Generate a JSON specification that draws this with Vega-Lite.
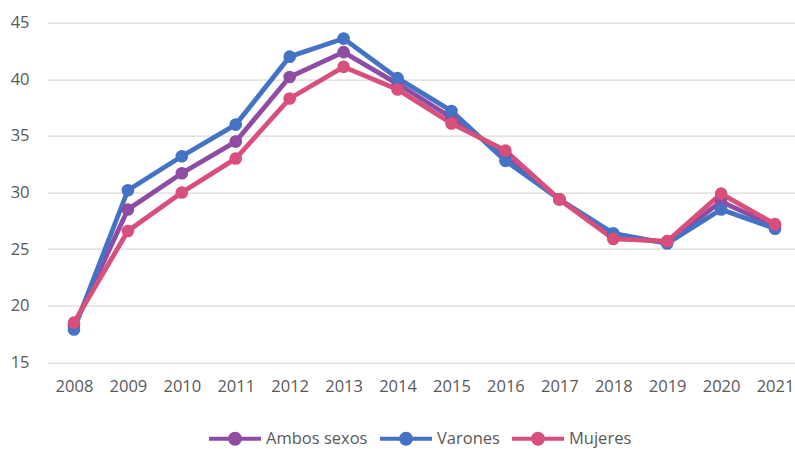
{
  "$schema": "https://vega.github.io/schema/vega-lite/v6.json",
  "width": 748,
  "height": 339.6,
  "autosize": {"type": "none"},
  "padding": {"left": 47, "top": 22.7, "right": 0, "bottom": 86.7},
  "background": "white",
  "config": {"view": {"stroke": null}, "font": "Open Sans"},
  "data": {
    "values": [
      {"serie": "Ambos sexos", "year": 2008, "value": 18.2},
      {"serie": "Ambos sexos", "year": 2009, "value": 28.5},
      {"serie": "Ambos sexos", "year": 2010, "value": 31.7},
      {"serie": "Ambos sexos", "year": 2011, "value": 34.5},
      {"serie": "Ambos sexos", "year": 2012, "value": 40.2},
      {"serie": "Ambos sexos", "year": 2013, "value": 42.4},
      {"serie": "Ambos sexos", "year": 2014, "value": 39.6},
      {"serie": "Ambos sexos", "year": 2015, "value": 36.6},
      {"serie": "Ambos sexos", "year": 2016, "value": 33.3},
      {"serie": "Ambos sexos", "year": 2017, "value": 29.4},
      {"serie": "Ambos sexos", "year": 2018, "value": 26.1},
      {"serie": "Ambos sexos", "year": 2019, "value": 25.6},
      {"serie": "Ambos sexos", "year": 2020, "value": 29.2},
      {"serie": "Ambos sexos", "year": 2021, "value": 27.0},
      {"serie": "Varones", "year": 2008, "value": 17.9},
      {"serie": "Varones", "year": 2009, "value": 30.2},
      {"serie": "Varones", "year": 2010, "value": 33.2},
      {"serie": "Varones", "year": 2011, "value": 36.0},
      {"serie": "Varones", "year": 2012, "value": 42.0},
      {"serie": "Varones", "year": 2013, "value": 43.6},
      {"serie": "Varones", "year": 2014, "value": 40.1},
      {"serie": "Varones", "year": 2015, "value": 37.2},
      {"serie": "Varones", "year": 2016, "value": 32.8},
      {"serie": "Varones", "year": 2017, "value": 29.4},
      {"serie": "Varones", "year": 2018, "value": 26.4},
      {"serie": "Varones", "year": 2019, "value": 25.5},
      {"serie": "Varones", "year": 2020, "value": 28.5},
      {"serie": "Varones", "year": 2021, "value": 26.8},
      {"serie": "Mujeres", "year": 2008, "value": 18.5},
      {"serie": "Mujeres", "year": 2009, "value": 26.6},
      {"serie": "Mujeres", "year": 2010, "value": 30.0},
      {"serie": "Mujeres", "year": 2011, "value": 33.0},
      {"serie": "Mujeres", "year": 2012, "value": 38.3},
      {"serie": "Mujeres", "year": 2013, "value": 41.1},
      {"serie": "Mujeres", "year": 2014, "value": 39.1},
      {"serie": "Mujeres", "year": 2015, "value": 36.1},
      {"serie": "Mujeres", "year": 2016, "value": 33.7},
      {"serie": "Mujeres", "year": 2017, "value": 29.4},
      {"serie": "Mujeres", "year": 2018, "value": 25.9},
      {"serie": "Mujeres", "year": 2019, "value": 25.7},
      {"serie": "Mujeres", "year": 2020, "value": 29.9},
      {"serie": "Mujeres", "year": 2021, "value": 27.2}
    ]
  },
  "encoding": {
    "x": {
      "field": "year",
      "type": "quantitative",
      "scale": {"domain": [2007.5, 2021.37], "nice": false, "zero": false},
      "axis": {
        "values": [2008, 2009, 2010, 2011, 2012, 2013, 2014, 2015, 2016, 2017, 2018, 2019, 2020, 2021],
        "format": "d",
        "grid": false,
        "domain": false,
        "ticks": false,
        "labelFontSize": 16.5,
        "labelColor": "#595959",
        "labelPadding": 16,
        "labelFlush": false,
        "title": null
      }
    },
    "y": {
      "field": "value",
      "type": "quantitative",
      "scale": {"domain": [15, 45], "nice": false, "zero": false},
      "axis": {
        "values": [15, 20, 25, 30, 35, 40, 45],
        "title": null,
        "domain": false,
        "ticks": false,
        "labelPadding": 18,
        "labelFontSize": 16.5,
        "labelColor": "#595959",
        "gridColor": "#D9D9D9",
        "gridWidth": 1.3
      }
    },
    "color": {
      "field": "serie",
      "type": "nominal",
      "sort": ["Ambos sexos", "Varones", "Mujeres"],
      "scale": {"domain": ["Ambos sexos", "Varones", "Mujeres"], "range": ["#8E4DA3", "#4472C4", "#D84F7B"]},
      "legend": {
        "title": null,
        "orient": "none",
        "direction": "horizontal",
        "legendX": 160,
        "legendY": 388,
        "symbolType": "M-1,0L1,0M-0.19,0A0.19,0.19,0,1,1,0.19,0A0.19,0.19,0,1,1,-0.19,0Z",
        "symbolSize": 2704,
        "symbolStrokeWidth": 4,
        "symbolOpacity": 1,
        "labelFontSize": 16.5,
        "labelColor": "#595959",
        "labelOffset": 3,
        "columnPadding": 4
      }
    }
  },
  "layer": [
    {"mark": {"type": "line", "strokeWidth": 4.8}},
    {"mark": {"type": "point", "filled": true, "size": 160, "opacity": 1}}
  ]
}
